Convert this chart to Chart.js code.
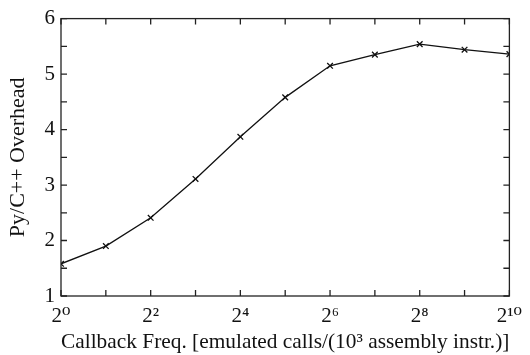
<!DOCTYPE html>
<html lang="en">
<head>
  <meta charset="UTF-8" />
  <title>Py/C++ Overhead</title>
  <script src="https://cdn.jsdelivr.net/npm/chart.js"></script>
  <style>
    * { margin: 0; padding: 0; box-sizing: border-box; }
    body { background: #fff; }
    #wrap { width: 530px; height: 355px; position: relative; }
  </style>
</head>
<body>
  <div id="wrap"><canvas id="chart"></canvas></div>

  <script>
    // log2 of the callback frequency, and the measured overhead
    const exponents = [0, 1, 2, 3, 4, 5, 6, 7, 8, 9, 10];
    const overhead = [1.58, 1.90, 2.41, 3.11, 3.87, 4.58, 5.15, 5.35, 5.54, 5.44, 5.36];
    const supers = { 0: '\u2070', 2: '\u00B2', 4: '\u2074', 6: '\u2076', 8: '\u2078', 10: '\u00B9\u2070' };

    const FONT = "'Liberation Serif', 'DejaVu Serif', serif";

    // inward tick marks on all four sides plus the frame
    const frame = {
      id: 'frame',
      afterDraw(chart) {
        const { ctx, chartArea: a, scales } = chart;
        ctx.save();
        ctx.strokeStyle = '#222';
        ctx.lineWidth = 1.3;
        ctx.strokeRect(a.left, a.top, a.right - a.left, a.bottom - a.top);
        ctx.beginPath();
        scales.x.ticks.forEach(t => {
          const px = scales.x.getPixelForValue(t.value);
          ctx.moveTo(px, a.bottom); ctx.lineTo(px, a.bottom - 6);
          ctx.moveTo(px, a.top); ctx.lineTo(px, a.top + 6);
        });
        scales.y.ticks.forEach(t => {
          const py = scales.y.getPixelForValue(t.value);
          ctx.moveTo(a.left, py); ctx.lineTo(a.left + 6, py);
          ctx.moveTo(a.right, py); ctx.lineTo(a.right - 6, py);
        });
        ctx.stroke();
        ctx.restore();
      }
    };

    new Chart(document.getElementById('chart'), {
      type: 'line',
      data: {
        datasets: [{
          data: exponents.map((e, i) => ({ x: e, y: overhead[i] })),
          borderColor: '#111',
          borderWidth: 1.3,
          pointStyle: 'crossRot',
          pointRadius: 4,
          pointBorderColor: '#111',
          pointBorderWidth: 1.3,
          tension: 0
        }]
      },
      options: {
        responsive: true,
        maintainAspectRatio: false,
        animation: false,
        layout: { padding: { top: 14, right: 13, left: 0, bottom: 0 } },
        plugins: { legend: { display: false }, tooltip: { enabled: false } },
        scales: {
          x: {
            type: 'linear',
            min: 0, max: 10,
            grid: { display: false, drawTicks: false },
            border: { display: false },
            afterFit(s) { s.height = 59; },
            ticks: {
              stepSize: 1,
              autoSkip: false,
              maxRotation: 0,
              padding: 8,
              color: '#111',
              font: { family: FONT, size: 21 },
              callback: v => (v % 2 === 0 ? '2' + supers[v] : '')
            },
            title: {
              display: true,
              text: 'Callback Freq. [emulated calls/(10\u00B3 assembly instr.)]',
              color: '#111',
              font: { family: FONT, size: 22 },
              padding: { top: 2, bottom: 0 }
            }
          },
          y: {
            min: 1, max: 6,
            grid: { display: false, drawTicks: false },
            border: { display: false },
            afterFit(s) { s.width = 61; },
            ticks: {
              stepSize: 0.5,
              autoSkip: false,
              padding: 6,
              color: '#111',
              font: { family: FONT, size: 21 },
              callback: v => (Number.isInteger(v) ? String(v) : '')
            },
            title: {
              display: true,
              text: 'Py/C++ Overhead',
              color: '#111',
              font: { family: FONT, size: 22 },
              padding: { top: 5, bottom: 4 }
            }
          }
        }
      },
      plugins: [frame]
    });
  </script>
</body>
</html>
